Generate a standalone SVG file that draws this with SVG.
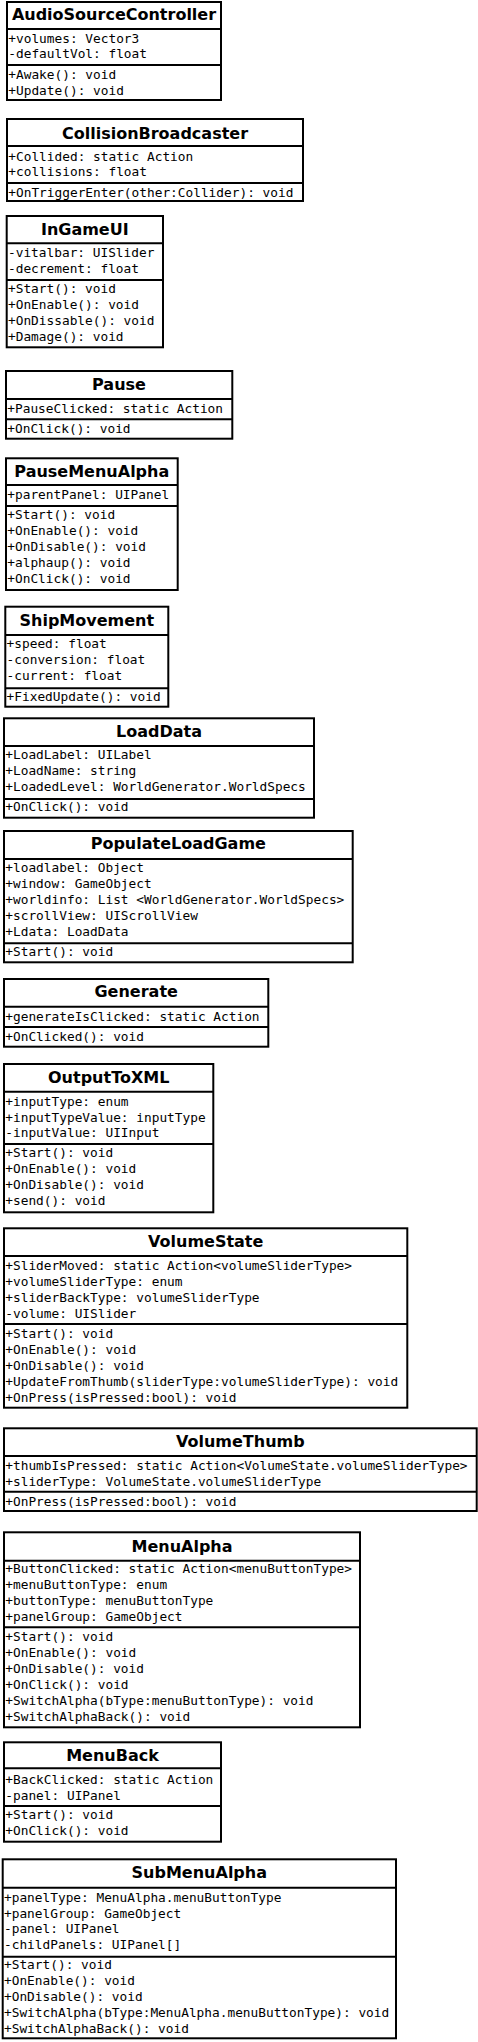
<svg xmlns="http://www.w3.org/2000/svg" width="478" height="2042" viewBox="0 0 478 2042">
<style>
.box{fill:#fff;stroke:#000;stroke-width:2}
.sep{stroke:#000;stroke-width:2}
.t{font-family:"DejaVu Sans",sans-serif;font-weight:bold;font-size:16px;text-anchor:middle;fill:#000}
.m{font-family:"DejaVu Sans Mono",monospace;font-size:12.8px;fill:#000}
</style>
<rect width="478" height="2042" fill="#fff"/>
<g id="connectors"/>
<g id="AudioSourceController">
<rect class="box" x="7" y="2" width="214" height="98"/>
<line class="sep" x1="7" y1="29" x2="221" y2="29"/><line class="sep" x1="7" y1="65" x2="221" y2="65"/>
<text class="t" x="114" y="19.5">AudioSourceController</text>
<text class="m" x="8.3" y="42.6">+volumes: Vector3</text>
<text class="m" x="8.3" y="58.3">-defaultVol: float</text>
<text class="m" x="8.3" y="79">+Awake(): void</text>
<text class="m" x="8.3" y="94.6">+Update(): void</text>
</g>
<g id="CollisionBroadcaster">
<rect class="box" x="7" y="119" width="296" height="82"/>
<line class="sep" x1="7" y1="146" x2="303" y2="146"/><line class="sep" x1="7" y1="183" x2="303" y2="183"/>
<text class="t" x="155" y="139.3">CollisionBroadcaster</text>
<text class="m" x="8.3" y="160.7">+Collided: static Action</text>
<text class="m" x="8.3" y="176.4">+collisions: float</text>
<text class="m" x="8.3" y="196.7">+OnTriggerEnter(other:Collider): void</text>
</g>
<g id="InGameUI">
<rect class="box" x="6.7" y="216" width="156.3" height="131.3"/>
<line class="sep" x1="6.7" y1="243.3" x2="163" y2="243.3"/><line class="sep" x1="6.7" y1="280" x2="163" y2="280"/>
<text class="t" x="84.8" y="235">InGameUI</text>
<text class="m" x="8" y="257.3">-vitalbar: UISlider</text>
<text class="m" x="8" y="273">-decrement: float</text>
<text class="m" x="8" y="293.3">+Start(): void</text>
<text class="m" x="8" y="309">+OnEnable(): void</text>
<text class="m" x="8" y="324.8">+OnDissable(): void</text>
<text class="m" x="8" y="340.6">+Damage(): void</text>
</g>
<g id="Pause">
<rect class="box" x="6" y="371" width="226.3" height="67.7"/>
<line class="sep" x1="6" y1="399" x2="232.3" y2="399"/><line class="sep" x1="6" y1="419.3" x2="232.3" y2="419.3"/>
<text class="t" x="119" y="390">Pause</text>
<text class="m" x="7.3" y="412.7">+PauseClicked: static Action</text>
<text class="m" x="7.3" y="432.7">+OnClick(): void</text>
</g>
<g id="PauseMenuAlpha">
<rect class="box" x="6" y="458.3" width="171.7" height="131.7"/>
<line class="sep" x1="6" y1="485" x2="177.7" y2="485"/><line class="sep" x1="6" y1="506" x2="177.7" y2="506"/>
<text class="t" x="91.8" y="477.3">PauseMenuAlpha</text>
<text class="m" x="7.3" y="499.3">+parentPanel: UIPanel</text>
<text class="m" x="7.3" y="519.3">+Start(): void</text>
<text class="m" x="7.3" y="535.1">+OnEnable(): void</text>
<text class="m" x="7.3" y="551">+OnDisable(): void</text>
<text class="m" x="7.3" y="566.9">+alphaup(): void</text>
<text class="m" x="7.3" y="582.8">+OnClick(): void</text>
</g>
<g id="ShipMovement">
<rect class="box" x="5.3" y="606.7" width="163" height="100"/>
<line class="sep" x1="5.3" y1="635" x2="168.3" y2="635"/><line class="sep" x1="5.3" y1="688.3" x2="168.3" y2="688.3"/>
<text class="t" x="86.8" y="625.7">ShipMovement</text>
<text class="m" x="6.6" y="648.3">+speed: float</text>
<text class="m" x="6.6" y="664.1">-conversion: float</text>
<text class="m" x="6.6" y="679.9">-current: float</text>
<text class="m" x="6.6" y="700.7">+FixedUpdate(): void</text>
</g>
<g id="LoadData">
<rect class="box" x="4" y="718.3" width="310" height="99.4"/>
<line class="sep" x1="4" y1="746" x2="314" y2="746"/><line class="sep" x1="4" y1="799" x2="314" y2="799"/>
<text class="t" x="159" y="736.7">LoadData</text>
<text class="m" x="5.3" y="759.3">+LoadLabel: UILabel</text>
<text class="m" x="5.3" y="775.1">+LoadName: string</text>
<text class="m" x="5.3" y="790.9">+LoadedLevel: WorldGenerator.WorldSpecs</text>
<text class="m" x="5.3" y="811">+OnClick(): void</text>
</g>
<g id="PopulateLoadGame">
<rect class="box" x="4" y="831" width="348.7" height="131.3"/>
<line class="sep" x1="4" y1="859" x2="352.7" y2="859"/><line class="sep" x1="4" y1="943.3" x2="352.7" y2="943.3"/>
<text class="t" x="178.3" y="849.3">PopulateLoadGame</text>
<text class="m" x="5.3" y="872.3">+loadlabel: Object</text>
<text class="m" x="5.3" y="888.1">+window: GameObject</text>
<text class="m" x="5.3" y="903.9">+worldinfo: List &lt;WorldGenerator.WorldSpecs&gt;</text>
<text class="m" x="5.3" y="919.7">+scrollView: UIScrollView</text>
<text class="m" x="5.3" y="935.5">+Ldata: LoadData</text>
<text class="m" x="5.3" y="956">+Start(): void</text>
</g>
<g id="Generate">
<rect class="box" x="4" y="979" width="264.3" height="67.7"/>
<line class="sep" x1="4" y1="1006.7" x2="268.3" y2="1006.7"/><line class="sep" x1="4" y1="1027" x2="268.3" y2="1027"/>
<text class="t" x="136.2" y="997.3">Generate</text>
<text class="m" x="5.3" y="1020.7">+generateIsClicked: static Action</text>
<text class="m" x="5.3" y="1040.7">+OnClicked(): void</text>
</g>
<g id="OutputToXML">
<rect class="box" x="4" y="1064" width="209.3" height="148.3"/>
<line class="sep" x1="4" y1="1091.7" x2="213.3" y2="1091.7"/><line class="sep" x1="4" y1="1144" x2="213.3" y2="1144"/>
<text class="t" x="108.7" y="1082.7">OutputToXML</text>
<text class="m" x="5.3" y="1105.7">+inputType: enum</text>
<text class="m" x="5.3" y="1121.5">+inputTypeValue: inputType</text>
<text class="m" x="5.3" y="1137.3">-inputValue: UIInput</text>
<text class="m" x="5.3" y="1157.3">+Start(): void</text>
<text class="m" x="5.3" y="1173.2">+OnEnable(): void</text>
<text class="m" x="5.3" y="1189.1">+OnDisable(): void</text>
<text class="m" x="5.3" y="1205">+send(): void</text>
</g>
<g id="VolumeState">
<rect class="box" x="4" y="1228.3" width="403.3" height="179.4"/>
<line class="sep" x1="4" y1="1256" x2="407.3" y2="1256"/><line class="sep" x1="4" y1="1324" x2="407.3" y2="1324"/>
<text class="t" x="205.7" y="1246.7">VolumeState</text>
<text class="m" x="5.3" y="1270">+SliderMoved: static Action&lt;volumeSliderType&gt;</text>
<text class="m" x="5.3" y="1285.9">+volumeSliderType: enum</text>
<text class="m" x="5.3" y="1301.8">+sliderBackType: volumeSliderType</text>
<text class="m" x="5.3" y="1317.7">-volume: UISlider</text>
<text class="m" x="5.3" y="1337.8">+Start(): void</text>
<text class="m" x="5.3" y="1353.8">+OnEnable(): void</text>
<text class="m" x="5.3" y="1369.7">+OnDisable(): void</text>
<text class="m" x="5.3" y="1385.7">+UpdateFromThumb(sliderType:volumeSliderType): void</text>
<text class="m" x="5.3" y="1401.6">+OnPress(isPressed:bool): void</text>
</g>
<g id="VolumeThumb">
<rect class="box" x="4" y="1428.3" width="472.7" height="82.7"/>
<line class="sep" x1="4" y1="1456" x2="476.7" y2="1456"/><line class="sep" x1="4" y1="1491.7" x2="476.7" y2="1491.7"/>
<text class="t" x="240.3" y="1446.7">VolumeThumb</text>
<text class="m" x="5.3" y="1470">+thumbIsPressed: static Action&lt;VolumeState.volumeSliderType&gt;</text>
<text class="m" x="5.3" y="1485.9">+sliderType: VolumeState.volumeSliderType</text>
<text class="m" x="5.3" y="1505.7">+OnPress(isPressed:bool): void</text>
</g>
<g id="MenuAlpha">
<rect class="box" x="4" y="1532.3" width="356" height="195"/>
<line class="sep" x1="4" y1="1560.7" x2="360" y2="1560.7"/><line class="sep" x1="4" y1="1627.3" x2="360" y2="1627.3"/>
<text class="t" x="182" y="1551.7">MenuAlpha</text>
<text class="m" x="5.3" y="1572.8">+ButtonClicked: static Action&lt;menuButtonType&gt;</text>
<text class="m" x="5.3" y="1588.8">+menuButtonType: enum</text>
<text class="m" x="5.3" y="1604.8">+buttonType: menuButtonType</text>
<text class="m" x="5.3" y="1620.7">+panelGroup: GameObject</text>
<text class="m" x="5.3" y="1641">+Start(): void</text>
<text class="m" x="5.3" y="1657">+OnEnable(): void</text>
<text class="m" x="5.3" y="1673">+OnDisable(): void</text>
<text class="m" x="5.3" y="1689">+OnClick(): void</text>
<text class="m" x="5.3" y="1705">+SwitchAlpha(bType:menuButtonType): void</text>
<text class="m" x="5.3" y="1721">+SwitchAlphaBack(): void</text>
</g>
<g id="MenuBack">
<rect class="box" x="4" y="1742.3" width="217" height="99.4"/>
<line class="sep" x1="4" y1="1768.3" x2="221" y2="1768.3"/><line class="sep" x1="4" y1="1806" x2="221" y2="1806"/>
<text class="t" x="112.5" y="1760.7">MenuBack</text>
<text class="m" x="5.3" y="1784">+BackClicked: static Action</text>
<text class="m" x="5.3" y="1800">-panel: UIPanel</text>
<text class="m" x="5.3" y="1819.3">+Start(): void</text>
<text class="m" x="5.3" y="1835">+OnClick(): void</text>
</g>
<g id="SubMenuAlpha">
<rect class="box" x="2.7" y="1859.3" width="393.3" height="179"/>
<line class="sep" x1="2.7" y1="1887.7" x2="396" y2="1887.7"/><line class="sep" x1="2.7" y1="1956.7" x2="396" y2="1956.7"/>
<text class="t" x="199.3" y="1878.3">SubMenuAlpha</text>
<text class="m" x="4" y="1901.7">+panelType: MenuAlpha.menuButtonType</text>
<text class="m" x="4" y="1917.6">+panelGroup: GameObject</text>
<text class="m" x="4" y="1933.4">-panel: UIPanel</text>
<text class="m" x="4" y="1949.2">-childPanels: UIPanel[]</text>
<text class="m" x="4" y="1969.3">+Start(): void</text>
<text class="m" x="4" y="1985.3">+OnEnable(): void</text>
<text class="m" x="4" y="2001.2">+OnDisable(): void</text>
<text class="m" x="4" y="2017.2">+SwitchAlpha(bType:MenuAlpha.menuButtonType): void</text>
<text class="m" x="4" y="2033.2">+SwitchAlphaBack(): void</text>
</g>
</svg>
